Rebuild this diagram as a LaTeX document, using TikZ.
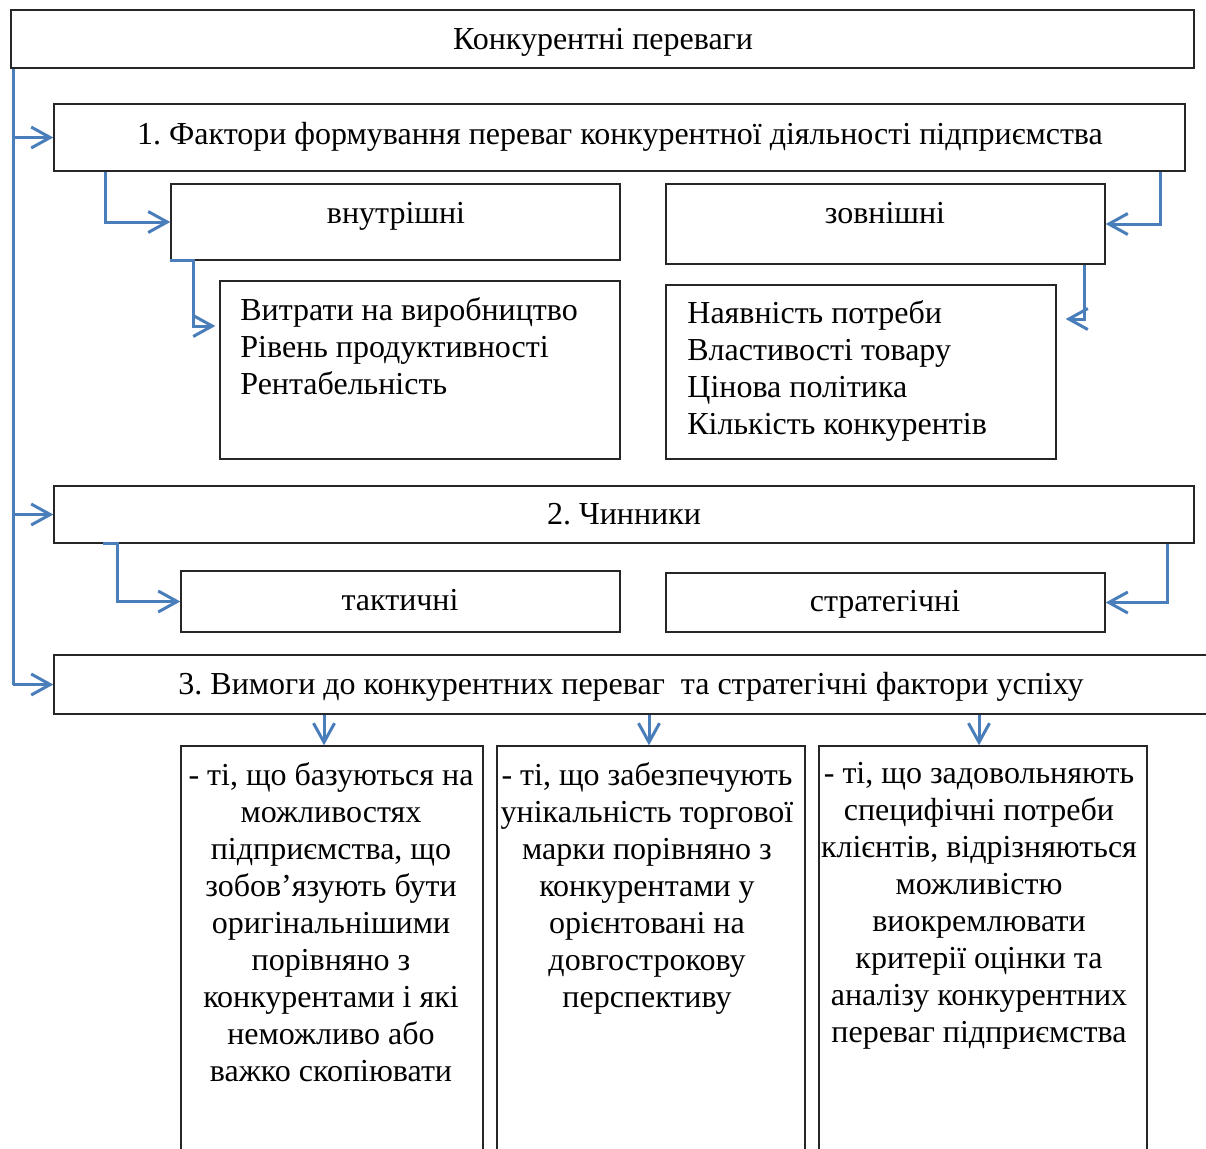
\documentclass[tikz,border=0pt]{standalone}
\usepackage{fontspec}
\setmainfont{Liberation Serif}
\usetikzlibrary{arrows.meta,fit,calc}
\definecolor{arrblue}{HTML}{4A7EBB}
\frenchspacing
\begin{document}
\begin{tikzpicture}[x=0.5pt,y=-0.5pt,
 box/.style={draw=black!85, line width=0.7pt, inner sep=0pt},
 txt/.style={inner sep=0pt, font=\fontsize{16}{18.5}\selectfont},
 lnk/.style={draw=arrblue, line width=1.5pt},
 arr/.style={lnk, -{Straight Barb[length=9.5pt,width=10.5pt]}}]
\useasboundingbox (0,0) rectangle (1206,1148);
\begin{scope}
\clip (0,0) rectangle (1206,1148);
% boxes
\node[box, fit={(11,10) (1194,68)}] (top) {};
\node[box, fit={(54,104) (1185,171)}] (b1) {};
\node[box, fit={(171,184) (620,260)}] (vn) {};
\node[box, fit={(666,184) (1105,264)}] (zv) {};
\node[box, fit={(220,281) (620,459)}] (il) {};
\node[box, fit={(666,285) (1056,459)}] (ir) {};
\node[box, fit={(54,486) (1194,543)}] (b2) {};
\node[box, fit={(181,571) (620,632)}] (tak) {};
\node[box, fit={(666,573) (1105,632)}] (str) {};
\node[box, fit={(54,655) (1240,714)}] (b3) {};
\node[box, fit={(181,746) (483,1180)}] (c1) {};
\node[box, fit={(497,746) (805,1180)}] (c2) {};
\node[box, fit={(819,746) (1147,1180)}] (c3) {};
% texts
\node[txt, anchor=base] (ttop) at (603,49) {Конкурентні переваги};
\node[txt, anchor=base] (tb1) at (620,144) {1. Фактори формування переваг конкурентної діяльності підприємства};
\node[txt, anchor=base] (tvn) at (396,223) {внутрішні};
\node[txt, anchor=base] (tzv) at (885,223) {зовнішні};
\node[txt, anchor=north west, align=left] (til) at (240,297) {Витрати на виробництво\\Рівень продуктивності\\Рентабельність};
\node[txt, anchor=north west, align=left] (tir) at (687,300) {Наявність потреби\\Властивості товару\\Цінова політика\\Кількість конкурентів};
\node[txt, anchor=base] (tb2) at (624,524) {2. Чинники};
\node[txt, anchor=base] (ttak) at (400,610) {тактичні};
\node[txt, anchor=base] (tstr) at (885,611) {стратегічні};
\node[txt, anchor=base] (tb3) at (631,694) {3. Вимоги до конкурентних переваг\ \ та стратегічні фактори успіху};
\node[txt, anchor=north, align=center] (tc1) at (331,762) {- ті, що базуються на\\можливостях\\підприємства, що\\зобов’язують бути\\оригінальнішими\\порівняно з\\конкурентами і які\\неможливо або\\важко скопіювати};
\node[txt, anchor=north, align=center] (tc2) at (647,762) {- ті, що забезпечують\\унікальність торгової\\марки порівняно з\\конкурентами у\\орієнтовані на\\довгострокову\\перспективу};
\node[txt, anchor=north, align=center] (tc3) at (979,762) {- ті, що задовольняють\\специфічні потреби\\клієнтів, відрізняються\\можливістю\\виокремлювати\\критерії оцінки та\\аналізу конкурентних\\переваг підприємства};
% connectors
\draw[lnk] (13,0 |- top.south) -- (13,0 |- b3.west);
\draw[arr] (13,0 |- b1.west) -- (b1.west);
\draw[arr] (13,0 |- b2.west) -- (b2.west);
\draw[arr] (13,0 |- b3.west) -- (b3.west);
\draw[arr] (105,0 |- b1.south) |- (vn.west);
\draw[arr] (1160,0 |- b1.south) |- (zv.east);
\draw[arr] (vn.south west) -- (193,0 |- vn.south) |- ($(il.west |- 0,326)+(-4,0)$);
\draw[arr] (1084,0 |- zv.south) |- ($(ir.east |- 0,319)+(9,0)$);
\draw[arr] (103,0 |- b2.south) -- (117,0 |- b2.south) |- (tak.west);
\draw[arr] (1167,0 |- b2.south) |- (str.east);
\draw[arr] (324,0 |- b3.south) -- (324,0 |- c1.north);
\draw[arr] (649,0 |- b3.south) -- (649,0 |- c2.north);
\draw[arr] (979,0 |- b3.south) -- (979,0 |- c3.north);
\end{scope}
\end{tikzpicture}
\end{document}
